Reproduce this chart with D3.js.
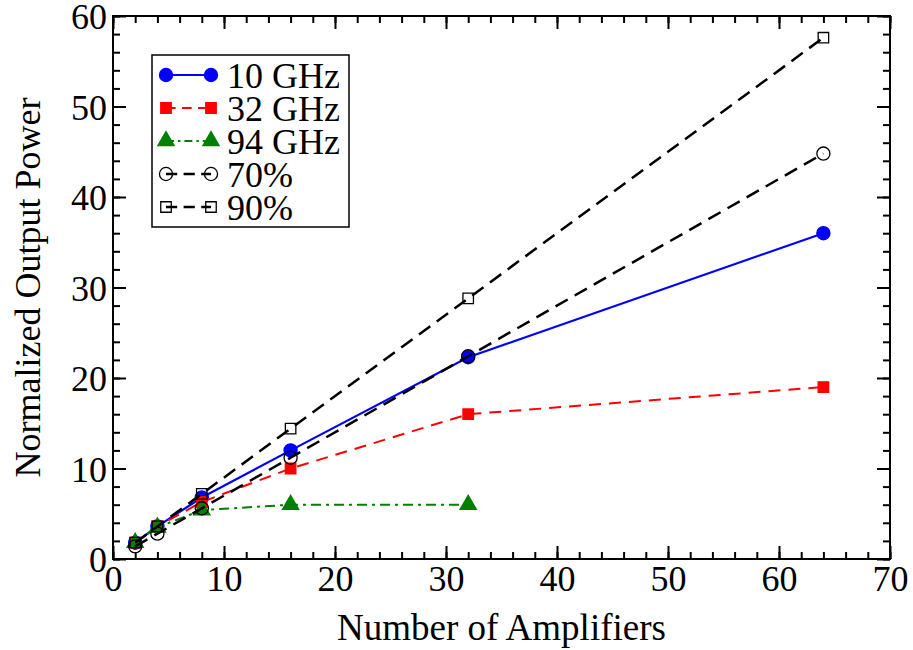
<!DOCTYPE html>
<html>
<head>
<meta charset="utf-8">
<script src="https://cdn.jsdelivr.net/npm/d3@7.9.0/dist/d3.min.js"></script>
<style>
  body { margin: 0; background: #fff; }
  svg text { font-family: "Liberation Serif", "Times New Roman", "DejaVu Serif", serif; }
</style>
</head>
<body>
<svg id="chart" width="913" height="650"></svg>
<script>
// data
const amps = [2, 4, 8, 16, 32, 64];
const ghz10 = [1.8, 3.6, 6.8, 12.0, 22.3, 36.0];
const ghz32 = [1.8, 3.6, 6.3, 10.0, 16.0, 19.0];
const ghz94 = [1.8, 3.5, 5.4, 6.0, 6.0];
const eff70 = [1.4, 2.8, 5.6, 11.2, 22.4, 44.8];
const eff90 = [1.8, 3.6, 7.2, 14.4, 28.8, 57.6];
const xTicks = [0, 10, 20, 30, 40, 50, 60, 70];
const yTicks = [0, 10, 20, 30, 40, 50, 60];

const margin = { left: 113, top: 16, right: 23, bottom: 91 };
const W = 913, H = 650;
const w = W - margin.left - margin.right;
const h = H - margin.top - margin.bottom;

const svg = d3.select('#chart');
const g = svg.append('g').attr('transform', `translate(${margin.left},${margin.top})`);

const x = d3.scaleLinear().domain([0, 70]).range([0, w]);
const y = d3.scaleLinear().domain([0, 60]).range([h, 0]);

const minorX = d3.range(0, 71, 2);
const minorY = d3.range(0, 61, 2);

// ticks on all four sides, pointing inward
function addAxis(axis, tr, labels) {
  const a = g.append('g').attr('transform', tr).call(axis);
  a.attr('font-family', null);
  a.select('.domain').remove();
  a.selectAll('line').attr('stroke', '#000').attr('stroke-width', 2);
  if (!labels) a.selectAll('text').remove();
  else a.selectAll('text').attr('font-size', 36).attr('fill', '#000');
  return a;
}
addAxis(d3.axisBottom(x).tickValues(minorX).tickSize(-7).tickFormat(''), `translate(0,${h})`, false);
addAxis(d3.axisTop(x).tickValues(minorX).tickSize(-7).tickFormat(''), 'translate(0,0)', false);
addAxis(d3.axisLeft(y).tickValues(minorY).tickSize(-7).tickFormat(''), 'translate(0,0)', false);
addAxis(d3.axisRight(y).tickValues(minorY).tickSize(-7).tickFormat(''), `translate(${w},0)`, false);
addAxis(d3.axisBottom(x).tickValues(xTicks).tickSize(-13).tickPadding(6), `translate(0,${h})`, true);
addAxis(d3.axisTop(x).tickValues(xTicks).tickSize(-13).tickFormat(''), 'translate(0,0)', false);
addAxis(d3.axisLeft(y).tickValues(yTicks).tickSize(-13).tickPadding(6), 'translate(0,0)', true)
  .selectAll('text').attr('dy', '0.36em');
addAxis(d3.axisRight(y).tickValues(yTicks).tickSize(-13).tickFormat(''), `translate(${w},0)`, false);

g.append('rect').attr('width', w).attr('height', h)
  .attr('fill', 'none').attr('stroke', '#000').attr('stroke-width', 2);

// open markers are hollow (no fill), like the original
const series = [
  { name: '10 GHz', vals: ghz10, color: '#0000ff', dash: null, width: 2.2, marker: 'circle', fill: '#0000ff' },
  { name: '32 GHz', vals: ghz32, color: '#ff0000', dash: '12,8', width: 2, marker: 'square', fill: '#ff0000' },
  { name: '94 GHz', vals: ghz94, color: '#008000', dash: '10,5,3,5', width: 2, marker: 'triangle', fill: '#008000' },
  { name: '70%', vals: eff70, color: '#000', dash: '14,8', width: 2.5, marker: 'circle', fill: 'none' },
  { name: '90%', vals: eff90, color: '#000', dash: '14,8', width: 2.5, marker: 'square', fill: 'none' },
];

const symbolFor = {
  circle: d3.symbol().type(d3.symbolCircle).size(135),
  square: d3.symbol().type(d3.symbolSquare).size(110),
  triangle: d3.symbol().type(d3.symbolTriangle).size(115),
};

const line = d3.line().x((d) => x(d[0])).y((d) => y(d[1]));

series.forEach((s) => {
  const pts = s.vals.map((v, i) => [amps[i], v]);
  g.append('path').datum(pts).attr('d', line)
    .attr('fill', 'none').attr('stroke', s.color).attr('stroke-width', s.width)
    .attr('stroke-dasharray', s.dash);
  g.selectAll(null).data(pts).enter().append('path')
    .attr('d', symbolFor[s.marker])
    .attr('transform', (d) => `translate(${x(d[0])},${y(d[1])})`)
    .attr('fill', s.fill)
    .attr('stroke', s.color)
    .attr('stroke-width', 1.3);
});

// legend
const lg = svg.append('g');
lg.append('rect').attr('x', 152).attr('y', 55).attr('width', 197).attr('height', 172)
  .attr('fill', '#fff').attr('stroke', '#000').attr('stroke-width', 1.5);
series.forEach((s, i) => {
  const cy = 75 + i * 33;
  lg.append('line').attr('x1', 166).attr('x2', 211).attr('y1', cy).attr('y2', cy)
    .attr('stroke', s.color).attr('stroke-width', s.width)
    .attr('stroke-dasharray', s.dash ? s.dash.split(',').map((d) => d * 0.8).join(',') : null);
  [166, 211].forEach((mx) => {
    lg.append('path').attr('d', symbolFor[s.marker])
      .attr('transform', `translate(${mx},${cy})`)
      .attr('fill', s.fill)
      .attr('stroke', s.color)
      .attr('stroke-width', 1.3);
  });
  lg.append('text').attr('x', 227).attr('y', cy).attr('dy', '0.35em')
    .attr('font-size', 36).text(s.name);
});

// axis titles
svg.append('text').attr('x', margin.left + w / 2).attr('y', 640)
  .attr('text-anchor', 'middle').attr('font-size', 37).text('Number of Amplifiers');
svg.append('text').attr('transform', `translate(40,${margin.top + h / 2}) rotate(-90)`)
  .attr('text-anchor', 'middle').attr('font-size', 36).text('Normalized Output Power');
</script>
</body>
</html>
